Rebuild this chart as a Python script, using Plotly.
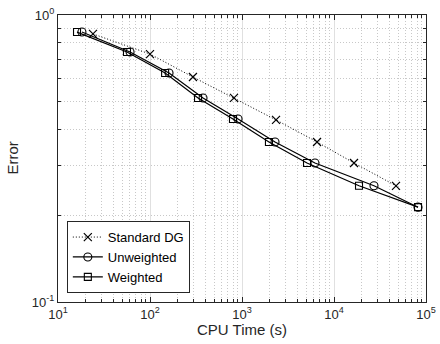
import plotly.graph_objects as go

# Data
std_x = [24.0, 100, 293, 818, 2343, 6540, 16500, 47200]
std_y = [0.859, 0.731, 0.608, 0.514, 0.431, 0.361, 0.305, 0.254]

unw_x = [18.2, 60.7, 161, 377, 906, 2285, 6210, 27200, 81900]
unw_y = [0.872, 0.743, 0.628, 0.514, 0.434, 0.361, 0.305, 0.254, 0.214]

wgt_x = [16.1, 56.2, 146, 333, 798, 1963, 5090, 18700, 81900]
wgt_y = [0.872, 0.743, 0.628, 0.514, 0.434, 0.361, 0.305, 0.254, 0.214]

x_ticks = [10, 100, 1000, 10000, 100000]
x_tick_text = ["10<sup>1</sup>", "10<sup>2</sup>", "10<sup>3</sup>", "10<sup>4</sup>", "10<sup>5</sup>"]
y_ticks = [0.1, 1]
y_tick_text = ["10<sup>-1</sup>", "10<sup>0</sup>"]

FONT = "Liberation Sans, Arial, Helvetica, sans-serif"
AX = "#262626"

fig = go.Figure()
fig.add_trace(go.Scatter(x=std_x, y=std_y, name="Standard DG", mode="lines+markers",
                         line=dict(color="black", width=1, dash="1px,2px"),
                         marker=dict(symbol="x-thin-open", size=8, color="black",
                                     line=dict(color="black", width=1.2))))
fig.add_trace(go.Scatter(x=unw_x, y=unw_y, name="Unweighted", mode="lines+markers",
                         line=dict(color="black", width=1.2),
                         marker=dict(symbol="circle-open", size=8, color="black",
                                     line=dict(color="black", width=1.1))))
fig.add_trace(go.Scatter(x=wgt_x, y=wgt_y, name="Weighted", mode="lines+markers",
                         line=dict(color="black", width=1.2),
                         marker=dict(symbol="square-open", size=7, color="black",
                                     line=dict(color="black", width=1.1))))

axis_common = dict(
    type="log", showline=True, linecolor=AX, linewidth=1, mirror="allticks",
    ticks="inside", ticklen=5, tickcolor=AX, tickwidth=1,
    showgrid=True, gridcolor="#e0e0e0", gridwidth=1,
    zeroline=False, automargin=False,
    tickfont=dict(family=FONT, size=13, color=AX),
    minor=dict(ticks="inside", ticklen=3, tickcolor=AX, showgrid=True,
               gridcolor="#c8c8c8", griddash="1px,2px", gridwidth=1, dtick="D1"),
)

fig.update_xaxes(**axis_common, range=[1, 5], tickmode="array",
                 tickvals=x_ticks, ticktext=x_tick_text)
fig.update_yaxes(**axis_common, range=[-1, 0], tickmode="array",
                 tickvals=y_ticks, ticktext=y_tick_text)

fig.add_annotation(text="CPU Time (s)", xref="paper", yref="paper", x=0.5, y=-0.095,
                   xanchor="center", yanchor="middle", showarrow=False,
                   font=dict(family=FONT, size=15, color=AX))
fig.add_annotation(text="Error", xref="paper", yref="paper", x=-0.125, y=0.5,
                   xanchor="center", yanchor="middle", showarrow=False, textangle=-90,
                   font=dict(family=FONT, size=15, color=AX))

fig.update_layout(
    width=440, height=344,
    margin=dict(l=58, r=14, t=15, b=42),
    plot_bgcolor="white", paper_bgcolor="white",
    font=dict(family=FONT, size=13, color=AX),
    legend=dict(x=0.024, y=0.031, xanchor="left", yanchor="bottom",
                bgcolor="white", bordercolor=AX, borderwidth=1,
                font=dict(family=FONT, size=13, color="black"),
                itemwidth=30, tracegroupgap=0),
    showlegend=True,
)

fig.write_html("out.html", config={"displayModeBar": False},
               post_script="document.body.style.margin='0';document.body.style.overflow='hidden';")
